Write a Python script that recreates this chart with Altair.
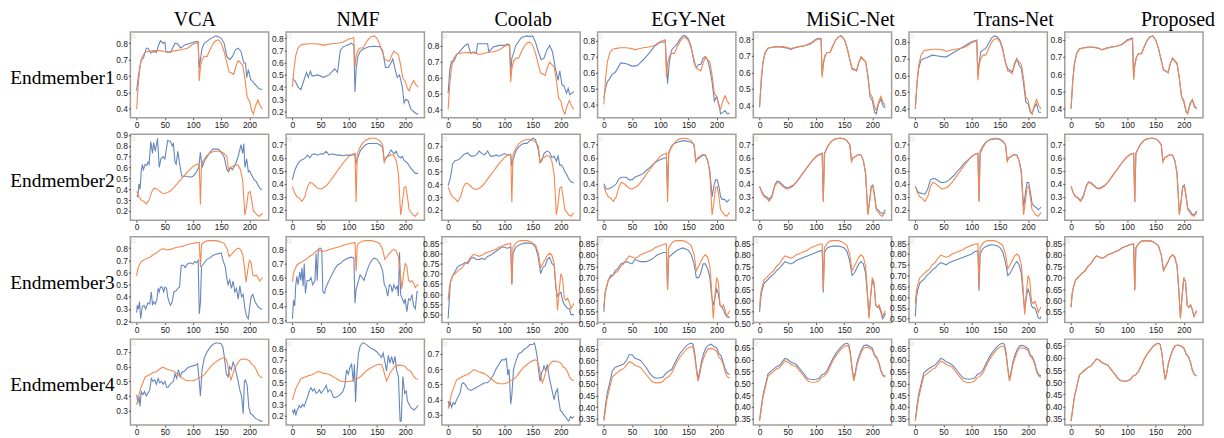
import altair as alt
import pandas as pd

METHODS = ["VCA", "NMF", "Coolab", "EGY-Net", "MiSiC-Net", "Trans-Net", "Proposed"]
ROW_LABELS = ["Endmember1", "Endmember2", "Endmember3", "Endmember4"]
X_TICKS = [0, 50, 100, 150, 200]

# ---------------- Row 1 ----------------
X1 = [0, 3, 6, 10, 15, 20, 30, 40, 50, 55, 60, 70, 80, 90, 100, 105, 109, 111, 113, 116, 120, 125, 130, 135, 140,
      145, 150, 155, 160, 164, 168, 172, 176, 180, 184, 188, 192, 196, 200, 204, 207, 211, 215, 219, 223]
GT1 = [0.40, 0.56, 0.66, 0.72, 0.745, 0.75, 0.755, 0.755, 0.75, 0.742, 0.748, 0.755, 0.76, 0.77, 0.795, 0.80, 0.805,
       0.57, 0.655, 0.70, 0.72, 0.72, 0.76, 0.795, 0.815, 0.82, 0.80, 0.75, 0.68, 0.625, 0.62, 0.61, 0.66, 0.695, 0.68,
       0.665, 0.58, 0.47, 0.45, 0.39, 0.37, 0.42, 0.455, 0.42, 0.40]
VCA1_X = [0, 3, 6, 8, 12, 17, 20, 25, 30, 35, 38, 42, 47, 50, 52, 60, 68, 73, 78, 85, 95, 105, 109, 111, 113, 116, 120,
          130, 140, 145, 150, 155, 160, 165, 170, 175, 180, 185, 190, 193, 195, 198, 202, 205, 210, 215, 219, 223]
VCA1_Y = [0.51, 0.60, 0.66, 0.70, 0.71, 0.77, 0.77, 0.74, 0.75, 0.745, 0.78, 0.815, 0.80, 0.805, 0.75, 0.745, 0.80,
          0.795, 0.77, 0.79, 0.80, 0.81, 0.81, 0.65, 0.70, 0.77, 0.80, 0.825, 0.845, 0.84, 0.83, 0.80, 0.72, 0.70, 0.72,
          0.76, 0.77, 0.75, 0.68, 0.68, 0.59, 0.64, 0.58, 0.57, 0.55, 0.53, 0.52, 0.52]
NMF1_X = [0, 5, 10, 15, 20, 25, 28, 32, 35, 45, 55, 65, 75, 80, 85, 90, 100, 105, 109, 111, 113, 116, 120, 125, 135,
          145, 155, 160, 165, 170, 175, 178, 182, 186, 190, 195, 198, 201, 205, 210, 215, 220, 223]
NMF1_Y = [0.47, 0.45, 0.40, 0.38, 0.45, 0.52, 0.48, 0.53, 0.49, 0.50, 0.48, 0.50, 0.55, 0.52, 0.70, 0.73, 0.75, 0.76,
          0.74, 0.36, 0.55, 0.65, 0.69, 0.71, 0.73, 0.735, 0.73, 0.70, 0.56, 0.56, 0.60, 0.63, 0.55, 0.48, 0.50, 0.40,
          0.27, 0.30, 0.29, 0.22, 0.20, 0.18, 0.18]
COOL1_X = [0, 3, 6, 10, 15, 20, 25, 30, 35, 40, 45, 50, 52, 60, 70, 72, 80, 90, 100, 105, 109, 111, 113, 116, 120, 130,
           140, 145, 150, 155, 160, 165, 170, 175, 180, 185, 190, 195, 198, 202, 205, 210, 213, 216, 219, 223]
COOL1_Y = [0.50, 0.65, 0.70, 0.70, 0.74, 0.76, 0.78, 0.80, 0.81, 0.75, 0.76, 0.75, 0.81, 0.81, 0.81, 0.76, 0.79, 0.80,
           0.80, 0.81, 0.80, 0.62, 0.72, 0.75, 0.80, 0.85, 0.86, 0.855, 0.86, 0.82, 0.76, 0.71, 0.72, 0.77, 0.80, 0.76,
           0.66, 0.58, 0.64, 0.55, 0.55, 0.50, 0.53, 0.49, 0.50, 0.51]
EGY1 = [0.44, 0.50, 0.54, 0.56, 0.59, 0.60, 0.66, 0.655, 0.64, 0.64, 0.645, 0.68, 0.72, 0.765, 0.79, 0.79, 0.795, 0.65,
        0.53, 0.66, 0.74, 0.76, 0.78, 0.81, 0.83, 0.83, 0.81, 0.76, 0.66, 0.63, 0.65, 0.65, 0.69, 0.70, 0.68, 0.62, 0.54,
        0.42, 0.45, 0.40, 0.34, 0.35, 0.36, 0.34, 0.345]
MISIC1 = [0.39, 0.55, 0.66, 0.72, 0.745, 0.75, 0.755, 0.752, 0.745, 0.738, 0.745, 0.755, 0.76, 0.775, 0.80, 0.805, 0.80,
          0.58, 0.65, 0.70, 0.72, 0.72, 0.76, 0.795, 0.815, 0.82, 0.80, 0.75, 0.675, 0.62, 0.615, 0.61, 0.66, 0.69,
          0.675, 0.665, 0.58, 0.45, 0.43, 0.36, 0.35, 0.41, 0.44, 0.40, 0.385]
TRANS1 = [0.40, 0.55, 0.64, 0.69, 0.70, 0.705, 0.72, 0.715, 0.71, 0.71, 0.72, 0.74, 0.76, 0.78, 0.80, 0.805, 0.81, 0.60,
          0.67, 0.74, 0.75, 0.76, 0.79, 0.82, 0.835, 0.83, 0.81, 0.76, 0.67, 0.64, 0.63, 0.62, 0.67, 0.70, 0.66, 0.64,
          0.55, 0.44, 0.43, 0.38, 0.37, 0.41, 0.43, 0.38, 0.38]
PROP1 = [0.40, 0.56, 0.66, 0.72, 0.748, 0.752, 0.757, 0.757, 0.748, 0.74, 0.748, 0.757, 0.762, 0.772, 0.80, 0.805, 0.81,
         0.57, 0.65, 0.70, 0.72, 0.718, 0.76, 0.797, 0.817, 0.822, 0.80, 0.75, 0.68, 0.622, 0.618, 0.608, 0.66, 0.69,
         0.675, 0.66, 0.575, 0.47, 0.44, 0.38, 0.375, 0.43, 0.45, 0.41, 0.40]

# ---------------- Row 2 ----------------
X2 = [0, 4, 8, 12, 17, 22, 27, 31, 35, 40, 45, 50, 55, 60, 65, 70, 75, 80, 85, 90, 95, 100, 105, 111, 113, 115, 120,
      125, 130, 135, 140, 145, 150, 155, 160, 163, 166, 170, 175, 180, 184, 188, 192, 195, 198, 201, 204, 207, 210, 214,
      218, 223]
GT2 = [0.38, 0.33, 0.30, 0.29, 0.265, 0.30, 0.38, 0.41, 0.405, 0.385, 0.365, 0.36, 0.37, 0.385, 0.41, 0.44, 0.47, 0.50,
       0.53, 0.56, 0.585, 0.61, 0.625, 0.635, 0.26, 0.63, 0.68, 0.715, 0.735, 0.745, 0.75, 0.75, 0.745, 0.73, 0.70,
       0.57, 0.60, 0.61, 0.625, 0.62, 0.58, 0.48, 0.16, 0.25, 0.37, 0.38, 0.30, 0.20, 0.185, 0.16, 0.15, 0.18]
VCA2_X = [0, 2, 4, 6, 8, 10, 12, 15, 18, 20, 22, 25, 28, 30, 33, 37, 40, 43, 47, 50, 55, 60, 63, 65, 68, 70, 73, 76, 80,
          85, 90, 95, 100, 105, 110, 113, 116, 120, 125, 130, 135, 140, 145, 150, 155, 160, 163, 166, 170, 173, 176,
          180, 185, 188, 190, 192, 195, 198, 200, 205, 208, 212, 215, 220, 223]
VCA2_Y = [0.34, 0.33, 0.45, 0.40, 0.56, 0.63, 0.58, 0.63, 0.62, 0.65, 0.63, 0.84, 0.73, 0.83, 0.75, 0.87, 0.60, 0.68,
          0.70, 0.68, 0.85, 0.84, 0.80, 0.82, 0.65, 0.63, 0.75, 0.64, 0.52, 0.52, 0.52, 0.51, 0.52, 0.55, 0.60, 0.74,
          0.60, 0.66, 0.70, 0.74, 0.77, 0.77, 0.77, 0.74, 0.70, 0.58, 0.56, 0.60, 0.58, 0.61, 0.64, 0.70, 0.81, 0.73,
          0.82, 0.60, 0.68, 0.56, 0.57, 0.52, 0.49, 0.47, 0.44, 0.40, 0.40]
NMF2 = [0.43, 0.50, 0.54, 0.57, 0.585, 0.595, 0.62, 0.60, 0.625, 0.63, 0.62, 0.63, 0.63, 0.65, 0.62, 0.63, 0.625, 0.62,
        0.62, 0.615, 0.62, 0.62, 0.62, 0.625, 0.55, 0.59, 0.65, 0.68, 0.70, 0.71, 0.71, 0.71, 0.71, 0.70, 0.68, 0.57,
        0.60, 0.62, 0.66, 0.63, 0.65, 0.61, 0.60, 0.61, 0.58, 0.57, 0.56, 0.54, 0.52, 0.50, 0.48, 0.48]
COOL2 = [0.39, 0.45, 0.56, 0.585, 0.59, 0.605, 0.63, 0.64, 0.645, 0.62, 0.62, 0.63, 0.66, 0.64, 0.63, 0.66, 0.62, 0.62,
         0.63, 0.62, 0.63, 0.64, 0.63, 0.63, 0.54, 0.59, 0.66, 0.69, 0.71, 0.72, 0.72, 0.74, 0.76, 0.75, 0.67, 0.57,
         0.58, 0.64, 0.66, 0.65, 0.61, 0.62, 0.58, 0.62, 0.55, 0.55, 0.53, 0.50, 0.48, 0.44, 0.42, 0.41]
EGY2 = [0.40, 0.36, 0.36, 0.37, 0.38, 0.40, 0.44, 0.45, 0.45, 0.45, 0.43, 0.43, 0.45, 0.46, 0.47, 0.48, 0.50, 0.52,
        0.54, 0.56, 0.575, 0.585, 0.595, 0.60, 0.35, 0.64, 0.69, 0.71, 0.72, 0.725, 0.73, 0.73, 0.725, 0.72, 0.70, 0.57,
        0.59, 0.60, 0.62, 0.62, 0.58, 0.50, 0.30, 0.38, 0.43, 0.43, 0.38, 0.30, 0.28, 0.28, 0.26, 0.28]
MISIC2 = [0.38, 0.34, 0.31, 0.30, 0.28, 0.31, 0.39, 0.42, 0.415, 0.395, 0.375, 0.37, 0.38, 0.39, 0.41, 0.44, 0.47, 0.50,
          0.53, 0.56, 0.585, 0.605, 0.62, 0.635, 0.27, 0.63, 0.68, 0.715, 0.735, 0.745, 0.75, 0.75, 0.745, 0.73, 0.70,
          0.575, 0.60, 0.61, 0.625, 0.62, 0.58, 0.48, 0.17, 0.27, 0.38, 0.39, 0.31, 0.21, 0.20, 0.18, 0.17, 0.20]
TRANS2 = [0.38, 0.34, 0.33, 0.325, 0.32, 0.36, 0.43, 0.44, 0.44, 0.425, 0.41, 0.41, 0.415, 0.43, 0.45, 0.47, 0.50, 0.52,
          0.55, 0.57, 0.59, 0.61, 0.625, 0.635, 0.27, 0.65, 0.69, 0.72, 0.735, 0.74, 0.745, 0.745, 0.74, 0.725, 0.70,
          0.58, 0.60, 0.61, 0.625, 0.62, 0.58, 0.50, 0.22, 0.32, 0.41, 0.41, 0.34, 0.25, 0.23, 0.22, 0.20, 0.22]
PROP2 = [0.38, 0.33, 0.30, 0.295, 0.27, 0.31, 0.385, 0.415, 0.41, 0.39, 0.37, 0.365, 0.375, 0.39, 0.41, 0.44, 0.47,
         0.50, 0.53, 0.56, 0.585, 0.61, 0.625, 0.635, 0.26, 0.635, 0.68, 0.715, 0.735, 0.745, 0.75, 0.75, 0.745, 0.73,
         0.70, 0.57, 0.60, 0.61, 0.625, 0.62, 0.58, 0.48, 0.17, 0.26, 0.38, 0.39, 0.31, 0.21, 0.20, 0.17, 0.16, 0.19]

# ---------------- Row 3 ----------------
X3 = [0, 2, 4, 8, 12, 16, 20, 25, 30, 35, 40, 45, 50, 55, 60, 65, 70, 75, 80, 85, 90, 95, 100, 105, 111, 113, 115, 120,
      125, 130, 135, 140, 145, 150, 155, 160, 164, 168, 172, 176, 180, 184, 188, 191, 194, 197, 200, 203, 206, 209,
      212, 215, 218, 221, 223]
GT3 = [0.57, 0.63, 0.655, 0.69, 0.70, 0.71, 0.72, 0.73, 0.75, 0.76, 0.78, 0.795, 0.79, 0.785, 0.79, 0.80, 0.805, 0.81,
       0.815, 0.82, 0.83, 0.835, 0.84, 0.845, 0.848, 0.645, 0.83, 0.85, 0.86, 0.862, 0.862, 0.862, 0.858, 0.85, 0.84,
       0.80, 0.73, 0.75, 0.77, 0.79, 0.80, 0.79, 0.75, 0.65, 0.52, 0.62, 0.70, 0.68, 0.58, 0.57, 0.58, 0.56, 0.53,
       0.545, 0.555]
VCA3_X = [0, 1, 3, 5, 7, 10, 13, 16, 20, 23, 26, 28, 30, 33, 36, 38, 40, 42, 45, 48, 50, 53, 55, 58, 60, 63, 66, 70, 73,
          76, 79, 83, 86, 90, 95, 100, 103, 106, 109, 111, 113, 115, 120, 125, 130, 135, 140, 145, 150, 153, 157, 160,
          162, 165, 168, 171, 174, 177, 180, 183, 186, 189, 192, 195, 198, 200, 203, 206, 210, 215, 220, 223]
VCA3_Y = [0.27, 0.33, 0.30, 0.36, 0.22, 0.32, 0.33, 0.30, 0.35, 0.34, 0.44, 0.33, 0.36, 0.34, 0.38, 0.47, 0.44, 0.48,
          0.48, 0.44, 0.48, 0.47, 0.40, 0.35, 0.33, 0.36, 0.44, 0.45, 0.47, 0.48, 0.66, 0.66, 0.64, 0.67, 0.68, 0.67,
          0.69, 0.68, 0.70, 0.26, 0.35, 0.65, 0.68, 0.71, 0.72, 0.74, 0.75, 0.755, 0.76, 0.70, 0.65, 0.55, 0.50, 0.54,
          0.47, 0.53, 0.44, 0.47, 0.38, 0.49, 0.40, 0.42, 0.30, 0.24, 0.22, 0.30, 0.40, 0.42, 0.36, 0.32, 0.30, 0.30]
NMF3_X = [0, 2, 4, 6, 8, 10, 13, 15, 17, 19, 21, 23, 26, 30, 33, 36, 40, 42, 44, 46, 49, 52, 54, 57, 60, 65, 70, 75, 80,
          85, 90, 95, 100, 105, 109, 111, 113, 116, 120, 124, 127, 130, 135, 140, 145, 150, 155, 160, 163, 166, 169,
          172, 175, 177, 180, 183, 186, 188, 190, 192, 195, 198, 200, 203, 206, 209, 212, 215, 218, 221, 223]
NMF3_Y = [0.31, 0.44, 0.40, 0.55, 0.61, 0.55, 0.64, 0.58, 0.67, 0.54, 0.70, 0.49, 0.58, 0.58, 0.60, 0.55, 0.58, 0.77,
          0.58, 0.80, 0.81, 0.80, 0.50, 0.49, 0.54, 0.58, 0.62, 0.66, 0.69, 0.70, 0.72, 0.73, 0.74, 0.745, 0.74, 0.42,
          0.52, 0.56, 0.62, 0.60, 0.58, 0.62, 0.68, 0.72, 0.74, 0.73, 0.70, 0.65, 0.55, 0.53, 0.47, 0.55, 0.54, 0.50,
          0.55, 0.52, 0.54, 0.47, 0.78, 0.48, 0.45, 0.42, 0.45, 0.36, 0.45, 0.44, 0.48, 0.40, 0.38, 0.50, 0.50]
COOL3 = [0.48, 0.57, 0.66, 0.69, 0.71, 0.73, 0.74, 0.745, 0.755, 0.75, 0.775, 0.78, 0.77, 0.77, 0.775, 0.77, 0.785, 0.79,
         0.80, 0.81, 0.82, 0.83, 0.83, 0.825, 0.83, 0.65, 0.80, 0.83, 0.84, 0.845, 0.85, 0.85, 0.85, 0.845, 0.83, 0.78,
         0.70, 0.73, 0.74, 0.77, 0.78, 0.75, 0.74, 0.63, 0.59, 0.60, 0.61, 0.57, 0.55, 0.54, 0.53, 0.53, 0.50, 0.50, 0.50]
EGY3 = [0.55, 0.63, 0.65, 0.69, 0.71, 0.71, 0.73, 0.74, 0.76, 0.765, 0.77, 0.765, 0.76, 0.78, 0.775, 0.77, 0.77, 0.77,
        0.775, 0.78, 0.79, 0.80, 0.805, 0.81, 0.81, 0.65, 0.79, 0.80, 0.81, 0.82, 0.825, 0.83, 0.825, 0.82, 0.80, 0.76,
        0.70, 0.70, 0.72, 0.76, 0.76, 0.74, 0.70, 0.62, 0.58, 0.61, 0.65, 0.63, 0.58, 0.57, 0.56, 0.54, 0.53, 0.525, 0.53]
MISIC3 = [0.55, 0.61, 0.64, 0.675, 0.685, 0.695, 0.705, 0.715, 0.73, 0.74, 0.755, 0.77, 0.765, 0.76, 0.765, 0.775, 0.78,
          0.785, 0.79, 0.795, 0.80, 0.805, 0.81, 0.815, 0.82, 0.635, 0.81, 0.83, 0.835, 0.838, 0.838, 0.838, 0.835,
          0.83, 0.815, 0.77, 0.71, 0.72, 0.74, 0.76, 0.77, 0.76, 0.72, 0.63, 0.53, 0.62, 0.69, 0.67, 0.58, 0.57, 0.57,
          0.55, 0.52, 0.53, 0.545]
TRANS3 = [0.51, 0.60, 0.63, 0.665, 0.675, 0.685, 0.70, 0.71, 0.725, 0.735, 0.75, 0.76, 0.755, 0.75, 0.76, 0.765, 0.77,
          0.775, 0.78, 0.785, 0.79, 0.795, 0.80, 0.81, 0.815, 0.63, 0.80, 0.825, 0.835, 0.84, 0.843, 0.842, 0.838, 0.83,
          0.81, 0.76, 0.70, 0.71, 0.73, 0.75, 0.765, 0.75, 0.71, 0.62, 0.54, 0.60, 0.64, 0.61, 0.56, 0.55, 0.55, 0.53,
          0.505, 0.50, 0.51]
PROP3 = [0.57, 0.63, 0.655, 0.69, 0.70, 0.71, 0.72, 0.73, 0.75, 0.76, 0.78, 0.795, 0.79, 0.785, 0.79, 0.80, 0.805, 0.81,
         0.815, 0.82, 0.83, 0.835, 0.84, 0.845, 0.847, 0.645, 0.83, 0.85, 0.86, 0.861, 0.861, 0.861, 0.857, 0.85, 0.84,
         0.80, 0.73, 0.75, 0.77, 0.79, 0.80, 0.79, 0.75, 0.65, 0.525, 0.62, 0.70, 0.68, 0.58, 0.57, 0.58, 0.56, 0.53,
         0.545, 0.555]

# ---------------- Row 4 ----------------
X4 = [0, 3, 6, 10, 15, 20, 25, 30, 35, 40, 45, 50, 55, 60, 65, 70, 75, 80, 85, 90, 95, 100, 105, 110, 115, 120, 125,
      130, 135, 140, 145, 150, 155, 158, 161, 164, 167, 170, 173, 177, 181, 185, 190, 195, 200, 204, 208, 212, 215,
      219, 223]
GT4 = [0.34, 0.39, 0.44, 0.48, 0.53, 0.54, 0.55, 0.56, 0.565, 0.58, 0.595, 0.59, 0.58, 0.575, 0.57, 0.555, 0.54, 0.525,
       0.51, 0.505, 0.504, 0.505, 0.51, 0.525, 0.53, 0.545, 0.57, 0.595, 0.615, 0.63, 0.645, 0.655, 0.66, 0.655, 0.62,
       0.56, 0.51, 0.54, 0.58, 0.61, 0.635, 0.65, 0.652, 0.648, 0.64, 0.615, 0.605, 0.58, 0.55, 0.53, 0.525]
VCA4_X = [0, 2, 4, 6, 8, 11, 14, 17, 20, 23, 26, 29, 32, 35, 38, 41, 44, 47, 50, 53, 56, 59, 62, 65, 68, 71, 74, 77, 80,
          85, 90, 95, 100, 105, 108, 111, 113, 116, 120, 125, 130, 135, 140, 145, 150, 153, 156, 159, 162, 165, 168,
          171, 174, 177, 180, 183, 186, 189, 191, 193, 196, 199, 202, 206, 210, 215, 220, 223]
VCA4_Y = [0.41, 0.35, 0.40, 0.33, 0.43, 0.41, 0.43, 0.40, 0.42, 0.44, 0.52, 0.50, 0.51, 0.48, 0.52, 0.49, 0.50, 0.48,
          0.50, 0.46, 0.46, 0.48, 0.49, 0.50, 0.55, 0.52, 0.58, 0.53, 0.56, 0.57, 0.59, 0.60, 0.605, 0.61, 0.62, 0.50,
          0.40, 0.58, 0.66, 0.70, 0.73, 0.75, 0.76, 0.76, 0.755, 0.73, 0.65, 0.55, 0.53, 0.60, 0.58, 0.63, 0.60, 0.55,
          0.50, 0.44, 0.40, 0.28, 0.50, 0.51, 0.47, 0.32, 0.28, 0.27, 0.25, 0.24, 0.23, 0.23]
NMF4_X = [0, 2, 4, 6, 8, 10, 12, 15, 18, 21, 24, 27, 30, 33, 36, 39, 42, 45, 48, 51, 54, 57, 60, 63, 66, 69, 72, 75, 80,
          85, 90, 93, 96, 99, 102, 105, 108, 110, 112, 114, 117, 120, 124, 127, 130, 135, 140, 145, 150, 155, 158, 161,
          164, 167, 170, 173, 176, 179, 182, 185, 188, 191, 193, 196, 199, 202, 204, 207, 210, 213, 216, 220, 223]
NMF4_Y = [0.25, 0.22, 0.26, 0.20, 0.24, 0.26, 0.29, 0.27, 0.30, 0.28, 0.33, 0.37, 0.42, 0.45, 0.42, 0.44, 0.40, 0.41,
          0.43, 0.40, 0.42, 0.44, 0.47, 0.41, 0.43, 0.42, 0.37, 0.36, 0.37, 0.39, 0.42, 0.47, 0.61, 0.57, 0.63, 0.66,
          0.50, 0.66, 0.32, 0.55, 0.75, 0.82, 0.85, 0.85, 0.84, 0.82, 0.80, 0.79, 0.77, 0.74, 0.72, 0.76, 0.68, 0.60,
          0.74, 0.67, 0.73, 0.66, 0.73, 0.60, 0.55, 0.15, 0.15, 0.55, 0.40, 0.42, 0.33, 0.30, 0.27, 0.26, 0.25, 0.27, 0.29]
COOL4_X = [0, 2, 4, 6, 9, 12, 15, 18, 21, 24, 27, 30, 35, 40, 45, 50, 55, 60, 65, 70, 75, 80, 85, 90, 95, 100, 103, 106,
           108, 111, 113, 116, 120, 125, 130, 135, 140, 145, 150, 153, 155, 158, 160, 163, 166, 168, 170, 173, 176, 179,
           182, 185, 188, 191, 194, 196, 199, 202, 205, 208, 211, 214, 217, 220, 223]
COOL4_Y = [0.39, 0.36, 0.38, 0.35, 0.38, 0.37, 0.40, 0.42, 0.44, 0.50, 0.51, 0.50, 0.47, 0.46, 0.47, 0.48, 0.49, 0.50,
           0.51, 0.51, 0.53, 0.56, 0.60, 0.63, 0.66, 0.66, 0.67, 0.56, 0.60, 0.37, 0.43, 0.60, 0.65, 0.70, 0.71, 0.73,
           0.74, 0.76, 0.76, 0.77, 0.74, 0.68, 0.60, 0.52, 0.58, 0.59, 0.62, 0.59, 0.63, 0.55, 0.50, 0.45, 0.40, 0.45,
           0.47, 0.40, 0.33, 0.32, 0.30, 0.29, 0.27, 0.26, 0.29, 0.28, 0.29]
EGY4 = [0.35, 0.41, 0.46, 0.50, 0.555, 0.57, 0.575, 0.58, 0.585, 0.60, 0.625, 0.625, 0.61, 0.605, 0.60, 0.585, 0.57,
        0.55, 0.535, 0.525, 0.525, 0.525, 0.53, 0.545, 0.555, 0.56, 0.585, 0.61, 0.63, 0.645, 0.66, 0.67, 0.675, 0.67,
        0.635, 0.57, 0.52, 0.555, 0.595, 0.63, 0.655, 0.665, 0.67, 0.66, 0.655, 0.63, 0.62, 0.59, 0.565, 0.545, 0.54]
MISIC4 = [0.345, 0.40, 0.45, 0.49, 0.54, 0.55, 0.56, 0.57, 0.575, 0.59, 0.605, 0.60, 0.59, 0.585, 0.58, 0.565, 0.55,
          0.535, 0.52, 0.517, 0.516, 0.517, 0.52, 0.535, 0.54, 0.555, 0.58, 0.605, 0.625, 0.64, 0.655, 0.665, 0.67,
          0.665, 0.63, 0.565, 0.515, 0.55, 0.59, 0.62, 0.645, 0.66, 0.662, 0.655, 0.648, 0.62, 0.61, 0.585, 0.555,
          0.535, 0.53]
TRANS4 = [0.345, 0.405, 0.455, 0.495, 0.545, 0.555, 0.565, 0.572, 0.578, 0.592, 0.607, 0.602, 0.592, 0.587, 0.58, 0.567,
          0.552, 0.537, 0.523, 0.52, 0.518, 0.52, 0.523, 0.538, 0.543, 0.557, 0.582, 0.607, 0.627, 0.642, 0.657, 0.667,
          0.672, 0.667, 0.632, 0.567, 0.516, 0.552, 0.592, 0.622, 0.647, 0.66, 0.662, 0.656, 0.648, 0.622, 0.612, 0.587,
          0.557, 0.537, 0.532]
PROP4 = [0.34, 0.39, 0.44, 0.48, 0.53, 0.541, 0.551, 0.561, 0.566, 0.581, 0.596, 0.591, 0.581, 0.576, 0.571, 0.556,
         0.541, 0.526, 0.511, 0.506, 0.505, 0.506, 0.511, 0.526, 0.531, 0.546, 0.571, 0.596, 0.616, 0.631, 0.646, 0.656,
         0.661, 0.656, 0.621, 0.561, 0.511, 0.541, 0.581, 0.611, 0.636, 0.651, 0.653, 0.649, 0.641, 0.616, 0.606, 0.581,
         0.551, 0.531, 0.526]

ROW_X = [X1, X2, X3, X4]
ROW_GT = [GT1, GT2, GT3, GT4]
EST = [
    [(VCA1_X, VCA1_Y), (NMF1_X, NMF1_Y), (COOL1_X, COOL1_Y), (X1, EGY1), (X1, MISIC1), (X1, TRANS1), (X1, PROP1)],
    [(VCA2_X, VCA2_Y), (X2, NMF2), (X2, COOL2), (X2, EGY2), (X2, MISIC2), (X2, TRANS2), (X2, PROP2)],
    [(VCA3_X, VCA3_Y), (NMF3_X, NMF3_Y), (X3, COOL3), (X3, EGY3), (X3, MISIC3), (X3, TRANS3), (X3, PROP3)],
    [(VCA4_X, VCA4_Y), (NMF4_X, NMF4_Y), (COOL4_X, COOL4_Y), (X4, EGY4), (X4, MISIC4), (X4, TRANS4), (X4, PROP4)],
]

# y tick labels shown on each panel
T_48 = [0.4, 0.5, 0.6, 0.7, 0.8]
T_28 = [0.2, 0.3, 0.4, 0.5, 0.6, 0.7, 0.8]
T_19 = [0.1, 0.2, 0.3, 0.4, 0.5, 0.6, 0.7, 0.8, 0.9]
T_27 = [0.2, 0.3, 0.4, 0.5, 0.6, 0.7]
T_38 = [0.3, 0.4, 0.5, 0.6, 0.7, 0.8]
T_5085 = [0.50, 0.55, 0.60, 0.65, 0.70, 0.75, 0.80, 0.85]
T_5585 = [0.55, 0.60, 0.65, 0.70, 0.75, 0.80, 0.85]
T_37 = [0.3, 0.4, 0.5, 0.6, 0.7]
T_3565 = [0.35, 0.40, 0.45, 0.50, 0.55, 0.60, 0.65]
Y_TICKS = [
    [T_48, T_28, T_48, T_48, T_48, T_48, T_48],
    [T_19, T_27, T_27, T_27, T_27, T_27, T_27],
    [T_28, T_38, T_5085, T_5085, T_5085, T_5085, T_5585],
    [T_37, T_28, T_37, T_3565, T_3565, T_3565, T_3565],
]
Y_FMT = [
    [".1f"] * 7,
    [".1f"] * 7,
    [".1f", ".1f"] + [".2f"] * 5,
    [".1f", ".1f", ".1f"] + [".2f"] * 4,
]

# ---------------- style / layout ----------------
BLUE = "#6687bd"
ORANGE = "#f5874f"
SERIF = "Liberation Serif"
SANS = "Liberation Sans"
PW, PH = 139, 86.3
X_DOMAIN = [-11.15, 234.15]
TITLE_DX = [-4.75, 2.75, 12.25, 21.75, 28.25, 35.75, 44.25]


def make_panel(r, c):
    gx, gt = ROW_X[r], ROW_GT[r]
    ex, ey = EST[r][c]
    recs = [{"x": a, "y": b, "s": "gt"} for a, b in zip(gx, gt)]
    recs += [{"x": a, "y": b, "s": "est"} for a, b in zip(ex, ey)]
    df = pd.DataFrame(recs)
    lo, hi = float(df["y"].min()), float(df["y"].max())
    pad = 0.05 * (hi - lo)
    ydom = [lo - pad, hi + pad]

    yaxis_kw = dict(values=Y_TICKS[r][c], format=Y_FMT[r][c], labelFont=SANS, labelFontSize=8.5,
                    labelColor="#222222", tickSize=2, tickColor="#555555", labelPadding=1,
                    domain=False, grid=False, labelFlush=False, labelOverlap=False)
    if c == 0:
        yaxis_kw.update(title=ROW_LABELS[r], titleAngle=0, titleAlign="left", titleBaseline="alphabetic",
                        titleX=-121.3, titleY=52, titleFont=SERIF, titleFontSize=19.5,
                        titleFontWeight="normal", titleColor="#000000")
    else:
        yaxis_kw.update(title=None)
    xaxis = alt.Axis(values=X_TICKS, title=None, labelFont=SANS, labelFontSize=8.5, labelColor="#222222",
                     tickSize=2, tickColor="#555555", labelPadding=0.5, domain=False, grid=False,
                     labelFlush=False, labelOverlap=False)

    base = alt.Chart(df).encode(
        x=alt.X("x:Q", scale=alt.Scale(domain=X_DOMAIN, nice=False, zero=False), axis=xaxis),
        y=alt.Y("y:Q", scale=alt.Scale(domain=ydom, nice=False, zero=False), axis=alt.Axis(**yaxis_kw)),
    )
    est = base.transform_filter(alt.datum.s == "est").mark_line(color=BLUE, strokeWidth=1.1)
    gtl = base.transform_filter(alt.datum.s == "gt").mark_line(color=ORANGE, strokeWidth=1.1)
    sq = alt.Chart(pd.DataFrame({"k": [0]})).mark_point(
        shape="square", filled=False, size=10, color="#d4d4d4", strokeWidth=0.8
    ).encode(x=alt.value(3), y=alt.value(4.5))

    layer = alt.layer(est, gtl, sq)
    if r == 0:
        layer = layer.properties(
            width=PW, height=PH,
            title=alt.TitleParams(text=METHODS[c], frame="group", anchor="middle", dx=TITLE_DX[c], offset=-14,
                                  baseline="alphabetic", font=SERIF, fontSize=20, fontWeight="normal",
                                  color="#000000"),
        )
    else:
        layer = layer.properties(width=PW, height=PH)
    return layer


panels = [make_panel(r, c) for r in range(4) for c in range(7)]

chart = alt.concat(
    *panels, columns=7, spacing={"row": 15.9, "column": 17.5}, bounds="flush"
).properties(
    padding={"left": 0, "top": 0, "right": 0, "bottom": 0}
).configure_view(
    stroke="#a39e99", strokeWidth=1.5
)

chart.save("out.html", embed_options={"renderer": "svg", "actions": False})
